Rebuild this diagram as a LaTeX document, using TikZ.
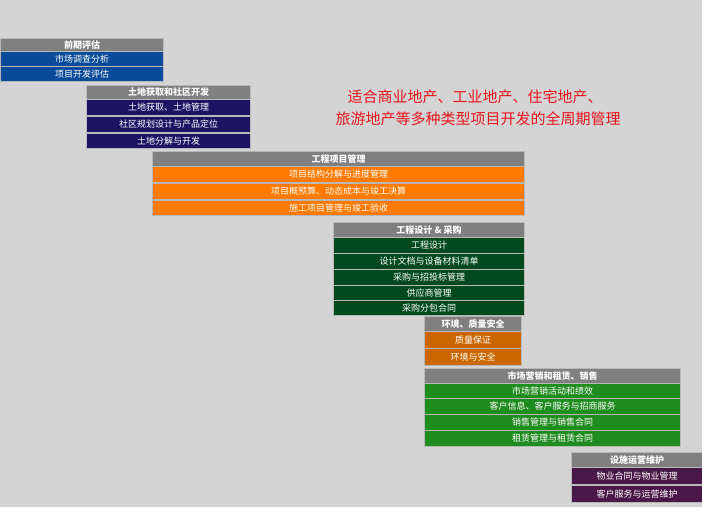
\documentclass[tikz,border=0pt]{standalone}
\usepackage{fontspec}
\newfontfamily\cjk{Noto Sans CJK SC}
\definecolor{bg}{HTML}{D4D4D4}
\definecolor{hdr}{HTML}{808080}
\definecolor{cblue}{HTML}{0A4C9A}
\definecolor{cnavy}{HTML}{1C1462}
\definecolor{corange}{HTML}{FF7A00}
\definecolor{cdgreen}{HTML}{014A1E}
\definecolor{cbrown}{HTML}{CC6600}
\definecolor{cgreen}{HTML}{1E8C1E}
\definecolor{cpurple}{HTML}{4A1848}
\definecolor{edge}{HTML}{B8B8B8}
\definecolor{tred}{HTML}{E8141E}
\tikzset{
 cell/.style={draw=edge,line width=1pt,inner sep=0pt,text=white,font=\cjk\fontsize{9}{9}\selectfont,anchor=north west},
 hd/.style={cell,fill=hdr,font=\cjk\bfseries\fontsize{9}{9}\selectfont},
}
% box: name, x1,y1,x2,y2, fill style, text
\newcommand\bx[7]{\node[#6,minimum width={(#4-#2)*1pt},minimum height={(#5-#3)*1pt}] (#1) at (#2,#3) {#7};}
\begin{document}
\begin{tikzpicture}[x=1pt,y=-1pt]
\fill[bg] (0,0) rectangle (702,507);
\useasboundingbox (0,0) rectangle (702,507);
% block 1
\bx{a0}{0}{38}{163}{51}{hd}{前期评估}
\bx{a1}{0}{51}{163}{66}{cell,fill=cblue}{市场调查分析}
\bx{a2}{0}{66}{163}{81}{cell,fill=cblue}{项目开发评估}
% block 2
\bx{b0}{86}{85}{250}{99}{hd}{土地获取和社区开发}
\bx{b1}{86}{99}{250}{115}{cell,fill=cnavy}{土地获取、土地管理}
\bx{b2}{86}{116}{250}{132}{cell,fill=cnavy}{社区规划设计与产品定位}
\bx{b3}{86}{133}{250}{148}{cell,fill=cnavy}{土地分解与开发}
% block 3
\bx{c0}{152}{151}{524}{166}{hd}{工程项目管理}
\bx{c1}{152}{166}{524}{182}{cell,fill=corange}{项目结构分解与进度管理}
\bx{c2}{152}{183}{524}{199}{cell,fill=corange}{项目概预算、动态成本与竣工决算}
\bx{c3}{152}{200}{524}{215}{cell,fill=corange}{施工项目管理与竣工验收}
% block 4
\bx{d0}{333}{222}{524}{237}{hd}{工程设计 \& 采购}
\bx{d1}{333}{237}{524}{253}{cell,fill=cdgreen}{工程设计}
\bx{d2}{333}{253}{524}{269}{cell,fill=cdgreen}{设计文档与设备材料清单}
\bx{d3}{333}{269}{524}{285}{cell,fill=cdgreen}{采购与招投标管理}
\bx{d4}{333}{285}{524}{300}{cell,fill=cdgreen}{供应商管理}
\bx{d5}{333}{300}{524}{315}{cell,fill=cdgreen}{采购分包合同}
% block 5
\bx{e0}{424}{316}{521}{331}{hd}{环境、质量安全}
\bx{e1}{424}{331}{521}{348}{cell,fill=cbrown}{质量保证}
\bx{e2}{424}{348}{521}{365}{cell,fill=cbrown}{环境与安全}
% block 6
\bx{f0}{424}{368}{680}{383}{hd}{市场营销和租赁、销售}
\bx{f1}{424}{383}{680}{398}{cell,fill=cgreen}{市场营销活动和绩效}
\bx{f2}{424}{398}{680}{414}{cell,fill=cgreen}{客户信息、客户服务与招商服务}
\bx{f3}{424}{414}{680}{430}{cell,fill=cgreen}{销售管理与销售合同}
\bx{f4}{424}{430}{680}{446}{cell,fill=cgreen}{租赁管理与租赁合同}
% block 7
\bx{g0}{571}{452}{702}{467}{hd}{设施运营维护}
\bx{g1}{571}{467}{702}{484}{cell,fill=cpurple}{物业合同与物业管理}
\bx{g2}{571}{485}{702}{502}{cell,fill=cpurple}{客户服务与运营维护}
% title
\node[text=tred,font=\cjk\fontsize{15}{15}\selectfont,align=center] (t1) at (475,97) {适合商业地产、工业地产、住宅地产、};
\node[text=tred,font=\cjk\fontsize{15}{15}\selectfont] (t2) at (478,119) {旅游地产等多种类型项目开发的全周期管理};
\end{tikzpicture}
\end{document}
